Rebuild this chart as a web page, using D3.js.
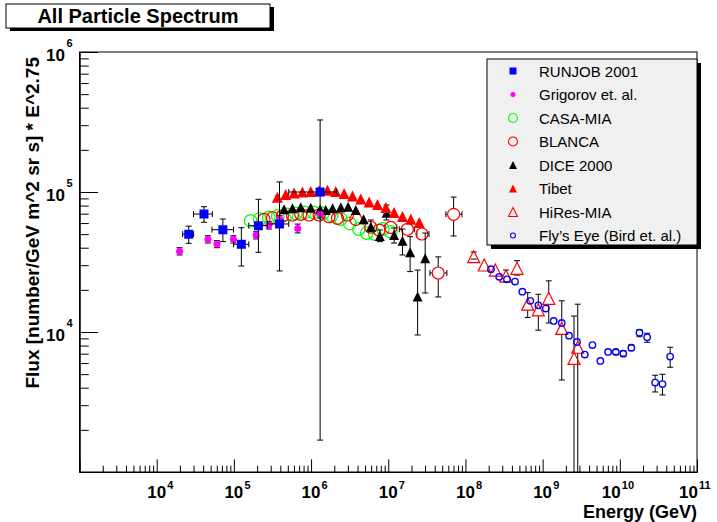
<!DOCTYPE html>
<html>
<head>
<meta charset="utf-8">
<script src="https://cdn.jsdelivr.net/npm/d3@7"></script>
<style>
  body { margin: 0; background: #fff; }
  svg { display: block; font-family: "Liberation Sans", Arial, Helvetica, sans-serif; }
</style>
</head>
<body>
<script>
// rows: [energy GeV, flux, fluxLow, fluxHigh, energyLow, energyHigh]  (missing = no bar)
const runjob = [
  [2.6e4, 5.0e4, 4.3e4, 5.7e4, 2.17e4, 3.0e4],
  [4.1e4, 6.96e4, 6.08e4, 7.85e4, 3.0e4, 5.26e4],
  [7.2e4, 5.38e4, 4.42e4, 6.41e4, 5.2e4, 9.9e4],
  [1.25e5, 4.23e4, 2.96e4, 5.56e4, 9.9e4, 1.56e5],
  [2.08e5, 5.75e4, 3.71e4, 8.87e4, 1.56e5, 2.72e5],
  [3.9e5, 5.91e4, 2.73e4, 1.18e5, 2.72e5, 5.14e5],
  [1.31e6, 1.0e5, 1.69e3, 3.27e5, 5.14e5, 2.15e6]
];

const grigorov = [
  [1.98e4, 3.77e4, 3.55e4, 4.0e4],
  [4.61e4, 4.59e4, 4.32e4, 4.87e4],
  [6.04e4, 4.25e4, 4.0e4, 4.5e4],
  [9.86e4, 4.59e4, 4.32e4, 4.87e4],
  [1.94e5, 4.91e4, 4.62e4, 5.2e4],
  [2.85e5, 5.78e4, 5.44e4, 6.13e4],
  [3.93e5, 6.38e4, 6.0e4, 6.76e4],
  [6.72e5, 5.49e4, 5.1e4, 5.9e4],
  [1.32e6, 6.93e4, 6.52e4, 7.35e4]
];

const casaMia = [
  [1.65e5, 6.21e4], [2.16e5, 6.41e4], [2.83e5, 6.58e4], [3.70e5, 6.74e4],
  [4.84e5, 6.91e4], [6.34e5, 7.02e4], [8.28e5, 7.14e4], [1.08e6, 7.14e4],
  [1.42e6, 7.02e4], [1.85e6, 6.80e4], [2.43e6, 6.41e4], [3.18e6, 5.96e4],
  [4.16e6, 5.44e4], [5.27e6, 5.09e4], [6.70e6, 5.01e4], [8.51e6, 5.44e4],
  [1.08e7, 5.18e4]
];

const blanca = [
  [2.46e5, 6.38e4], [3.16e5, 6.55e4], [4.26e5, 6.74e4], [5.74e5, 6.85e4],
  [7.35e5, 6.93e4], [9.42e5, 6.85e4], [1.27e6, 6.85e4], [1.71e6, 6.66e4],
  [2.20e6, 6.49e4], [2.96e6, 6.85e4], [3.80e6, 6.38e4], [5.94e6, 5.60e4],
  [7.62e6, 5.35e4],
  [1.08e7, 5.58e4, null, null, 9.0e6, 1.29e7],
  [1.77e7, 5.42e4, null, null, 1.39e7, 2.18e7],
  [2.73e7, 5.01e4, null, null, 2.35e7, 3.37e7],
  [4.44e7, 2.64e4, 1.78e4, 3.44e4, 3.47e7, 5.75e7],
  [7.03e7, 6.93e4, 4.85e4, 9.2e4, 5.58e7, 9.02e7]
];

const dice = [
  [4.47e5, 7.52e4], [5.74e5, 7.65e4], [7.35e5, 7.78e4], [9.91e5, 7.72e4],
  [1.31e6, 7.52e4], [1.55e6, 7.44e4], [1.90e6, 7.65e4], [2.43e6, 7.78e4],
  [3.02e6, 7.85e4], [3.80e6, 7.44e4], [4.79e6, 6.38e4],
  [5.94e6, 5.65e4, 5.20e4, 6.31e4],
  [7.78e6, 4.85e4, 4.42e4, 5.35e4],
  [9.51e6, 7.11e4, 6.31e4, 8.07e4],
  [1.19e7, 4.93e4, 4.32e4, 5.53e4],
  [1.53e7, 4.49e4, 3.55e4, 5.44e4],
  [1.92e7, 3.71e4, 2.70e4, 4.80e4],
  [2.40e7, 1.79e4, 9.52e3, 2.77e4],
  [3.01e7, 3.36e4, 1.90e4, 5.09e4]
];

const tibet = [
  [3.66e5, 9.17e4], [4.70e5, 9.60e4], [6.02e5, 9.84e4], [7.73e5, 1.0e5],
  [9.91e5, 1.01e5], [1.27e6, 1.02e5], [1.63e6, 1.03e5], [2.09e6, 1.01e5],
  [2.68e6, 9.76e4], [3.44e6, 9.36e4], [4.41e6, 8.91e4], [5.65e6, 8.48e4],
  [7.26e6, 8.14e4], [9.31e6, 7.75e4], [1.19e7, 7.14e4], [1.53e7, 6.68e4],
  [1.96e7, 6.38e4], [2.52e7, 6.05e4]
];

const hiresMia = [
  [1.28e8, 3.45e4, 3.32e4, 3.73e4],
  [1.75e8, 3.01e4],
  [2.44e8, 2.77e4],
  [3.35e8, 2.51e4, 2.29e4, 2.77e4],
  [4.66e8, 2.85e4, 2.55e4, 3.23e4],
  [6.41e8, 1.58e4, 1.27e4, 1.91e4],
  [8.79e8, 1.44e4, 1.03e4, 1.86e4],
  [1.20e9, 1.74e4, 1.16e4, 2.32e4],
  [1.77e9, 1.06e4, 4.54e3, 1.67e4],
  [2.55e9, 6.49e3, 5e2, 1.30e4],
  [2.85e9, 7.78e3, 5e2, 1.58e4]
];

const flysEye = [
  [2.14e8, 2.81e4], [2.74e8, 2.48e4], [3.45e8, 2.38e4], [4.39e8, 2.29e4],
  [5.46e8, 1.94e4], [6.92e8, 1.67e4], [8.79e8, 1.55e4], [1.10e9, 1.47e4],
  [1.39e9, 1.20e4], [1.77e9, 1.16e4], [2.20e9, 9.42e3], [2.79e9, 8.48e3],
  [3.52e9, 6.90e3], [4.42e9, 8.07e3], [5.60e9, 6.21e3], [7.05e9, 7.20e3],
  [8.87e9, 7.20e3, 6.93e3, 7.48e3],
  [1.11e10, 7.00e3, 6.74e3, 7.35e3],
  [1.41e10, 7.73e3, 7.35e3, 8.07e3],
  [1.80e10, 9.89e3, 9.25e3, 1.04e4],
  [2.26e10, 9.16e3, 8.44e3, 9.79e3],
  [2.87e10, 4.35e3, 3.73e3, 4.91e3],
  [3.57e10, 4.25e3, 3.55e3, 4.99e3],
  [4.49e10, 6.67e3, 5.60e3, 7.78e3]
];

const xDomain = [1e3, 1e11];
const yDomain = [1e3, 1e6];

const legendNames = ["RUNJOB 2001", "Grigorov et. al.", "CASA-MIA", "BLANCA",
                     "DICE 2000", "Tibet", "HiRes-MIA", "Fly\u2019s Eye (Bird et. al.)"];

class SpectrumChart {
    constructor(width, height){
        this.width = width;
        this.height = height;
        this.frame = {left: 79.5, right: 697, top: 52, bottom: 472};

        this.x = d3.scaleLog().domain(xDomain).range([this.frame.left, this.frame.right]);
        this.y = d3.scaleLog().domain(yDomain).range([this.frame.bottom, this.frame.top]);

        this.createSvg();
        this.drawFrame();
        this.drawAxes();
    }

    createSvg(){
        this.svg = d3.select("body")
            .append("svg")
            .attr("width", this.width)
            .attr("height", this.height);

        this.svg.append("rect")
            .attr("width", this.width)
            .attr("height", this.height)
            .attr("fill", "#fff");

        this.svg.append("clipPath")
            .attr("id", "plot-clip")
            .append("rect")
            .attr("x", this.frame.left)
            .attr("y", this.frame.top)
            .attr("width", this.frame.right - this.frame.left)
            .attr("height", this.frame.bottom - this.frame.top);
    }

    drawFrame(){
        const f = this.frame;
        this.svg.append("rect")
            .attr("x", f.left)
            .attr("y", f.top)
            .attr("width", f.right - f.left)
            .attr("height", f.bottom - f.top)
            .attr("fill", "none")
            .attr("stroke", "#000")
            .attr("stroke-width", 1);

        this.plot = this.svg.append("g").attr("clip-path", "url(#plot-clip)");
    }

    drawAxes(){
        const isMajor = d => Math.abs(Math.log10(d) - Math.round(Math.log10(d))) < 1e-6;
        const xMinor = this.x.ticks().filter(d => !isMajor(d));
        const xMajor = this.x.ticks().filter(isMajor);
        const yMinor = this.y.ticks().filter(d => !isMajor(d));
        const yMajor = this.y.ticks().filter(isMajor);

        const xg = this.svg.append("g").attr("transform", `translate(0,${this.frame.bottom})`);
        xg.append("g").call(d3.axisBottom(this.x).tickValues(xMinor)
            .tickSizeInner(-6.3).tickSizeOuter(0).tickFormat(""));
        xg.append("g").call(d3.axisBottom(this.x).tickValues(xMajor)
            .tickSizeInner(-12.6).tickSizeOuter(0).tickFormat(""));

        const yg = this.svg.append("g").attr("transform", `translate(${this.frame.left},0)`);
        yg.append("g").call(d3.axisLeft(this.y).tickValues(yMinor)
            .tickSizeInner(-9.3).tickSizeOuter(0).tickFormat(""));
        yg.append("g").call(d3.axisLeft(this.y).tickValues(yMajor)
            .tickSizeInner(-18.5).tickSizeOuter(0).tickFormat(""));

        this.svg.selectAll(".domain").attr("stroke", "#000");
        this.svg.selectAll(".tick line").attr("stroke", "#000");

        // "10" + superscript exponent, ROOT style
        const xl = this.svg.append("g").attr("font-weight", "bold");
        xMajor.filter(d => d > xDomain[0]).forEach(d => {
            const e = Math.round(Math.log10(d));
            const px = this.x(d) - (e >= 10 ? 8.5 : 0);
            xl.append("text").attr("x", px).attr("y", 498)
                .attr("text-anchor", "middle").attr("font-size", 17).text("10");
            xl.append("text").attr("x", px + 10.5).attr("y", 489)
                .attr("font-size", 11).text(e);
        });

        const yl = this.svg.append("g").attr("font-weight", "bold");
        yMajor.filter(d => d > yDomain[0]).forEach(d => {
            const py = this.y(d);
            yl.append("text").attr("x", 65).attr("y", py + 9)
                .attr("text-anchor", "end").attr("font-size", 17).text("10");
            yl.append("text").attr("x", 66.5).attr("y", py - 5)
                .attr("font-size", 11).text(Math.round(Math.log10(d)));
        });

        this.svg.append("text")
            .attr("x", 697).attr("y", 518.3)
            .attr("text-anchor", "end")
            .attr("font-size", 18).attr("font-weight", "bold")
            .text("Energy (GeV)");

        this.svg.append("text")
            .attr("transform", "translate(39,57) rotate(-90)")
            .attr("text-anchor", "end")
            .attr("font-size", 19).attr("font-weight", "bold")
            .text("Flux [number/GeV m^2 sr s] * E^2.75");
    }

    static marker(shape, s){
        const p = d3.path();
        if (shape === "square"){
            p.rect(-s, -s, 2 * s, 2 * s);
        } else if (shape === "triangle"){
            p.moveTo(0, -s); p.lineTo(s, s); p.lineTo(-s, s); p.closePath();
        } else {
            p.moveTo(s, 0); p.arc(0, 0, s, 0, 2 * Math.PI); p.closePath();
        }
        return p.toString();
    }

    drawSeries(rows, style){
        const g = this.plot.append("g");
        const cap = 3;
        const gap = style.filled ? 0 : style.size;
        const bars = g.append("g").attr("stroke", "#000").attr("stroke-width", 1);

        rows.forEach(r => {
            const cx = this.x(r[0]), cy = this.y(r[1]);
            if (r[2] != null && r[3] != null){
                const y0 = this.y(r[3]), y1 = this.y(r[2]);
                if (cy - gap > y0) bars.append("line").attr("x1", cx).attr("x2", cx).attr("y1", y0).attr("y2", cy - gap);
                if (y1 > cy + gap) bars.append("line").attr("x1", cx).attr("x2", cx).attr("y1", cy + gap).attr("y2", y1);
                [y0, y1].forEach(yy => bars.append("line")
                    .attr("x1", cx - cap).attr("x2", cx + cap).attr("y1", yy).attr("y2", yy));
            }
            if (r[4] != null && r[5] != null){
                const x0 = this.x(r[4]), x1 = this.x(r[5]);
                if (cx - gap > x0) bars.append("line").attr("y1", cy).attr("y2", cy).attr("x1", x0).attr("x2", cx - gap);
                if (x1 > cx + gap) bars.append("line").attr("y1", cy).attr("y2", cy).attr("x1", cx + gap).attr("x2", x1);
                [x0, x1].forEach(xx => bars.append("line")
                    .attr("y1", cy - cap).attr("y2", cy + cap).attr("x1", xx).attr("x2", xx));
            }
        });

        g.selectAll("path.mk")
            .data(rows)
            .enter().append("path")
            .attr("class", "mk")
            .attr("d", SpectrumChart.marker(style.shape, style.size))
            .attr("transform", d => `translate(${this.x(d[0])},${this.y(d[1])})`)
            .attr("fill", style.filled ? style.color : "none")
            .attr("stroke", style.color)
            .attr("stroke-width", style.filled ? 0 : style.stroke);
    }

    drawLegend(entries){
        const box = {x: 487, y: 59, w: 210, h: 186};
        const lg = this.svg.append("g");
        lg.append("rect")
            .attr("x", box.x + 4).attr("y", box.y + 4)
            .attr("width", box.w).attr("height", box.h)
            .attr("fill", "#000");
        lg.append("rect")
            .attr("x", box.x).attr("y", box.y)
            .attr("width", box.w).attr("height", box.h)
            .attr("fill", "#f0f0f0").attr("stroke", "#000");

        const rowY = d3.scaleLinear().domain([0, entries.length - 1]).range([71, 235.5]);
        const rows = lg.selectAll("g.entry")
            .data(entries)
            .enter().append("g")
            .attr("class", "entry")
            .attr("transform", (d, i) => `translate(0,${rowY(i)})`);

        rows.append("path")
            .attr("transform", "translate(513,0)")
            .attr("d", d => SpectrumChart.marker(d.style.shape, d.style.legendSize))
            .attr("fill", d => d.style.filled ? d.style.color : "none")
            .attr("stroke", d => d.style.color)
            .attr("stroke-width", d => d.style.filled ? 0 : 1.1);

        rows.append("text")
            .attr("x", 539).attr("y", 5.5)
            .attr("font-size", 15)
            .text(d => d.name);
    }

    drawTitle(text){
        const t = this.svg.append("g");
        t.append("rect").attr("x", 10).attr("y", 7).attr("width", 264).attr("height", 24).attr("fill", "#000");
        t.append("rect").attr("x", 6).attr("y", 4).attr("width", 264).attr("height", 24)
            .attr("fill", "#fff").attr("stroke", "#000");
        t.append("text")
            .attr("x", 138).attr("y", 22.7)
            .attr("text-anchor", "middle")
            .attr("font-size", 20).attr("font-weight", "bold")
            .text(text);
    }
}

const styles = {
    runjob:   {shape: "square",   size: 4.5, legendSize: 3.5, color: "#0000ff", filled: true},
    grigorov: {shape: "circle",   size: 3.5, legendSize: 2.5, color: "#ff00ff", filled: true},
    casaMia:  {shape: "circle",   size: 6.3, legendSize: 4.5, color: "#00ff00", filled: false, stroke: 1.2},
    blanca:   {shape: "circle",   size: 6,   legendSize: 4.5, color: "#ff0000", filled: false, stroke: 1.2},
    dice:     {shape: "triangle", size: 5,   legendSize: 4,   color: "#000000", filled: true},
    tibet:    {shape: "triangle", size: 5.5, legendSize: 4,   color: "#ff0000", filled: true},
    hiresMia: {shape: "triangle", size: 6,   legendSize: 4.5, color: "#ff0000", filled: false, stroke: 1.2},
    flysEye:  {shape: "circle",   size: 3.2, legendSize: 2.5, color: "#0000ff", filled: false, stroke: 1.4}
};

const run = function(){
    const chart = new SpectrumChart(717, 522);

    chart.drawSeries(casaMia, styles.casaMia);
    chart.drawSeries(blanca, styles.blanca);
    chart.drawSeries(dice, styles.dice);
    chart.drawSeries(tibet, styles.tibet);
    chart.drawSeries(hiresMia, styles.hiresMia);
    chart.drawSeries(flysEye, styles.flysEye);
    chart.drawSeries(grigorov, styles.grigorov);
    chart.drawSeries(runjob, styles.runjob);

    const order = ["runjob", "grigorov", "casaMia", "blanca", "dice", "tibet", "hiresMia", "flysEye"];
    chart.drawLegend(order.map((k, i) => ({name: legendNames[i], style: styles[k]})));
    chart.drawTitle("All Particle Spectrum");
};

run();
</script>
</body>
</html>
